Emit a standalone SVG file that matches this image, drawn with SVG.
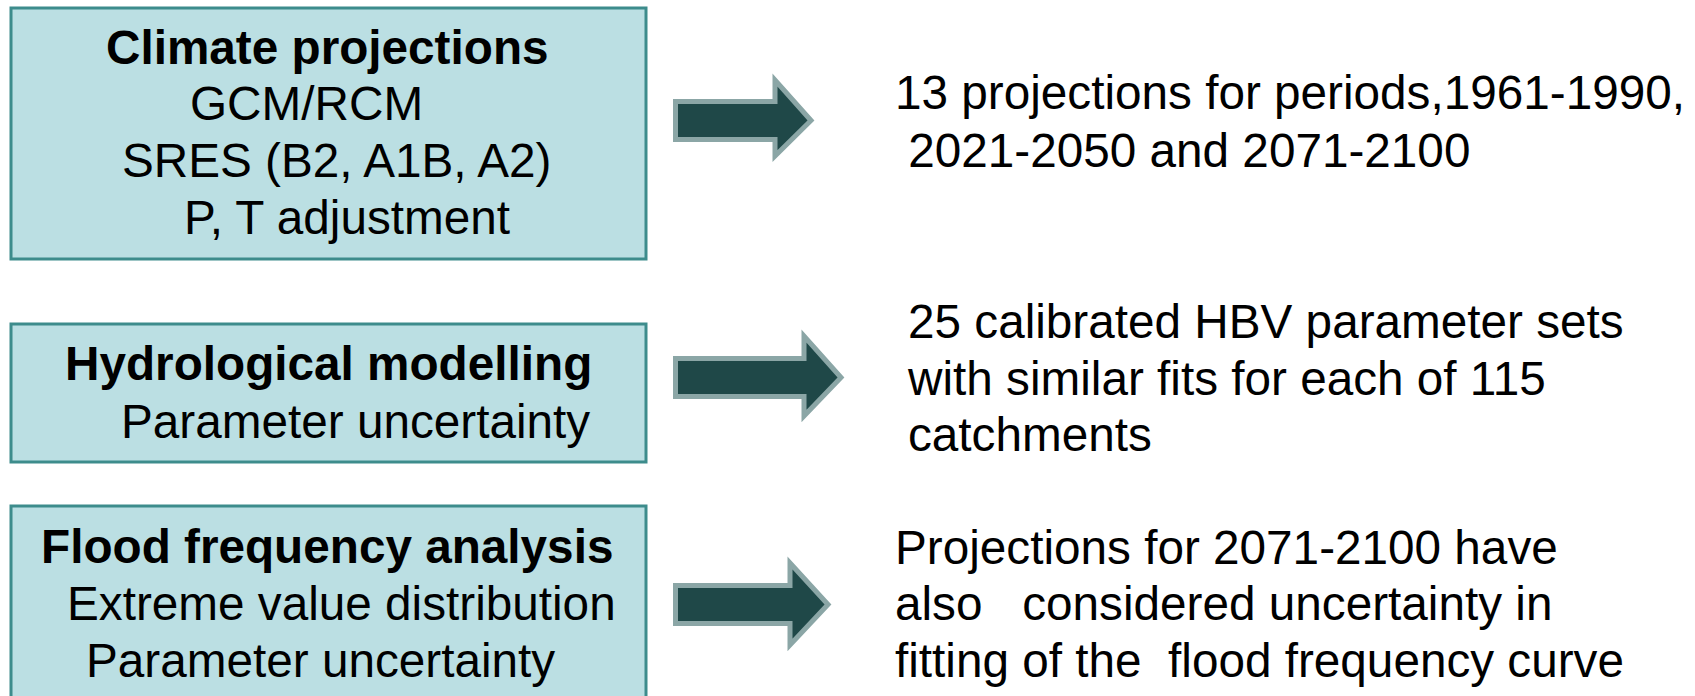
<svg xmlns="http://www.w3.org/2000/svg" width="1695" height="696" viewBox="0 0 1695 696">
  <style>
    .box { fill: #bbdfe3; stroke: #3d8c8c; stroke-width: 3; }
    .arrow { fill: #1f4848; stroke: #8ba6a6; stroke-width: 5; stroke-linejoin: miter; }
    text { font-family: "Liberation Sans", Arial, sans-serif; font-size: 47.7px; fill: #000; }
    .title { font-weight: bold; }
  </style>
  <rect width="1695" height="696" fill="#ffffff"/>

  <!-- stage 1: climate input -->
  <g id="climate-projections">
    <rect class="box" x="11" y="8" width="635" height="251"/>
    <text class="title" x="106" y="64">Climate projections</text>
    <text x="190" y="120">GCM/RCM</text>
    <text x="122" y="177">SRES (B2, A1B, A2)</text>
    <text x="184" y="234">P, T adjustment</text>
  </g>

  <!-- stage 2: hydrological model -->
  <g id="hydrological-modelling">
    <rect class="box" x="11" y="324" width="635" height="138"/>
    <text class="title" x="65" y="380">Hydrological modelling</text>
    <text x="121" y="438">Parameter uncertainty</text>
  </g>

  <!-- stage 3: flood statistics -->
  <g id="flood-frequency-analysis">
    <rect class="box" x="11" y="506" width="635" height="200"/>
    <text class="title" x="41" y="563">Flood frequency analysis</text>
    <text x="67" y="620">Extreme value distribution</text>
    <text x="86" y="677">Parameter uncertainty</text>
  </g>

  <!-- outcome notes -->
  <g id="note-projections">
    <text x="895" y="109">13 projections for periods,1961-1990,</text>
    <text x="895" y="167" xml:space="preserve"> 2021-2050 and 2071-2100</text>
  </g>
  <g id="note-hbv">
    <text x="908" y="338">25 calibrated HBV parameter sets</text>
    <text x="908" y="395">with similar fits for each of 115</text>
    <text x="908" y="451">catchments</text>
  </g>
  <g id="note-flood">
    <text x="895" y="564">Projections for 2071-2100 have</text>
    <text x="895" y="620" xml:space="preserve">also   considered uncertainty in</text>
    <text x="895" y="677" xml:space="preserve">fitting of the  flood frequency curve</text>
  </g>

  <!-- block arrows linking each stage to its note -->
  <g id="connectors">
    <polygon class="arrow" points="675.5,101.5 775,101.5 775,80 811,120.5 775,156 775,139.5 675.5,139.5"/>
    <polygon class="arrow" points="675.5,358.5 804,358.5 804,336 841,377.5 804,416 804,396.5 675.5,396.5"/>
    <polygon class="arrow" points="675.5,585.5 790,585.5 790,563 828,604.5 790,645 790,623.5 675.5,623.5"/>
  </g>
</svg>
